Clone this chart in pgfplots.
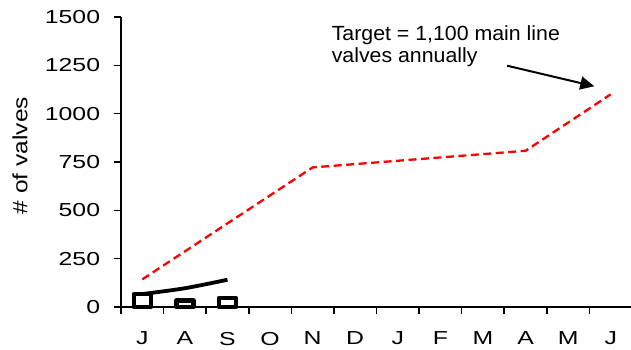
\documentclass[border=0pt]{standalone}
\usepackage{fontspec}
\setmainfont{Liberation Sans}
\newfontfamily\tickfont[FakeStretch=1.32]{Liberation Sans}
\newfontfamily\labfont[FakeStretch=1.19]{Liberation Sans}
\newfontfamily\annfont[FakeStretch=1.04]{Liberation Sans}
\usepackage{pgfplots}
\pgfplotsset{compat=1.18}
\usetikzlibrary{arrows.meta}
\begin{document}
\begin{tikzpicture}
\begin{axis}[name=ax, scale only axis, width=511bp, height=290bp,
 xmin=-0.5, xmax=11.5, ymin=0, ymax=1500,
 axis x line=bottom, axis y line=left, axis line style={-, line width=1.6bp},
 tick align=outside, major tick length=7bp, tick style={line width=1.6bp, black},
 ytick={0,250,...,1500},
 xtick={-0.5,0.5,...,11.5}, xticklabels={},
 extra x ticks={0,1,...,11}, extra x tick labels={J,A,S,O,N,D,J,F,M,A,M,J},
 extra x tick style={major tick length=0pt},
 /pgf/number format/assume math mode=true, /pgf/number format/1000 sep={},
 tick label style={font=\tickfont\fontsize{18.8bp}{22bp}\selectfont, inner sep=0pt},
 yticklabel style={anchor=east, xshift=-13.7bp},
 xticklabel style={anchor=north, yshift=-24.7bp},
 ylabel={\# of valves},
 ylabel style={font=\labfont\fontsize{20.6bp}{24bp}\selectfont, at={(axis description cs:-0.1977,0.522)}, anchor=center},
 clip=false,
]
\addplot[red, line width=2.3bp, dash pattern=on 8bp off 4.5bp] coordinates {(0,143) (4,722) (9,808) (11,1100)};
\addplot[black, line width=3.8bp, smooth] coordinates {(0,67) (1,97) (2,141)};
\addplot[ybar, bar width=17bp, draw=black, fill=white, line width=4.5bp, line join=round] coordinates {(0,67) (1,33) (2,46)};
\node[anchor=base west, inner sep=0pt, font=\annfont\fontsize{20.5bp}{24bp}\selectfont] at (axis cs:4.446,1377) {Target = 1,100 main line};
\node[anchor=base west, inner sep=0pt, font=\annfont\fontsize{20.5bp}{24bp}\selectfont] at (axis cs:4.446,1264) {valves annually};
\draw[line width=2bp, -{Triangle[length=14bp, width=13bp]}] (axis cs:8.568,1248) -- (axis cs:10.615,1141.6);
\end{axis}
\pgfresetboundingbox
\path ([shift={(-121bp,-43bp)}]ax.south west) rectangle ([shift={(-1bp,17bp)}]ax.north east);
\end{tikzpicture}
\end{document}
